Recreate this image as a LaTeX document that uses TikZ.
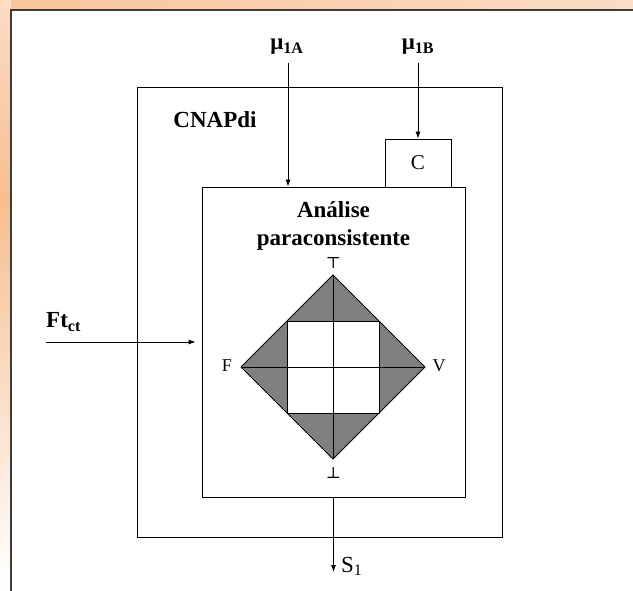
\documentclass[tikz,border=0pt]{standalone}
\usepackage{fontspec}
\setmainfont{Liberation Serif}
\newfontfamily\symfont{DejaVu Serif}
\usetikzlibrary{arrows.meta, positioning, calc, shadings}
\definecolor{cnpeach}{HTML}{F7BE90}
\definecolor{cnpeachlight}{HTML}{FCDCC6}
\definecolor{cnframe}{HTML}{3C3C3C}
\definecolor{cngray}{HTML}{808080}

\begin{document}
\begin{tikzpicture}[x=1pt, y=-1pt,
  box/.style={draw=black, line width=0.8pt, inner sep=0pt},
  arr/.style={draw=black, line width=0.8pt, -{Latex[length=7pt, width=5pt]}},
  bigbf/.style={font=\fontsize{23}{28}\selectfont\bfseries},
  bigrm/.style={font=\fontsize{23}{25}\selectfont},
  smallrm/.style={font=\fontsize{18}{20}\selectfont, inner sep=0pt}]
  \useasboundingbox (0,0) rectangle (633,591);
  \shade[left color=cnpeach!80!cnpeachlight, right color=cnpeachlight] (0,0) rectangle (633,11);
  \shade[top color=cnpeachlight, bottom color=cnpeach] (0,0) rectangle (11,200);
  \shade[top color=cnpeach, bottom color=white] (0,200) rectangle (11,591);
  \fill[white] (11,10) rectangle (633,591);
  \draw[cnframe, line width=2pt] (11,591) |- (633,10);

  \node[box, minimum width=365pt, minimum height=450pt] (cnap) at (319.5,312) {};
  \node[box, minimum width=263pt, minimum height=310pt] (analise) at (333.5,342) {};
  \node[box, fill=white, minimum width=66pt, minimum height=48pt, font=\fontsize{21}{23}\selectfont] (cbox) at (418,163) {C};

  \node[bigbf, anchor=base] (cnaptxt) at (215,128) {CNAPdi};
  \node[bigbf, align=center, anchor=north, inner sep=0pt] (titulo) at (333.5,201) {Análise\\paraconsistente};

  \coordinate (centro) at (333,367);
  \coordinate (topo) at ($(centro)+(0,-92)$);
  \coordinate (dir) at ($(centro)+(92,0)$);
  \coordinate (baixo) at ($(centro)+(0,92)$);
  \coordinate (esq) at ($(centro)+(-92,0)$);
  \fill[cngray] (topo) -- (dir) -- (baixo) -- (esq) -- cycle;
  \fill[white] ($(centro)+(-46,-46)$) rectangle ($(centro)+(46,46)$);
  \draw[line width=0.8pt] (topo) -- (dir) -- (baixo) -- (esq) -- cycle;
  \draw[line width=0.8pt] ($(centro)+(-46,-46)$) rectangle ($(centro)+(46,46)$);
  \draw[line width=0.8pt] (esq) -- (dir);
  \draw[line width=0.8pt] (topo) -- (baixo);

  \node[font=\fontsize{16}{18}\selectfont\symfont, inner sep=0pt] (lbltopo) at (333.5,262.5) {⊤};
  \node[font=\fontsize{16}{18}\selectfont\symfont, inner sep=0pt] (lblbaixo) at (333.5,473) {⊥};
  \node[smallrm, anchor=base] (lblf) at (227,372) {F};
  \node[smallrm, anchor=base] (lblv) at (439,372) {V};

  \node[bigbf, anchor=base] (mu1a) at (287,50) {μ\textsubscript{1A}};
  \node[bigbf, anchor=base] (mu1b) at (418,50) {μ\textsubscript{1B}};
  \node[bigbf, anchor=base west, inner sep=0pt] (ft) at (46,328) {Ft\textsubscript{ct}};
  \node[bigrm, anchor=base west, inner sep=0pt] (s1) at (341,572) {S\textsubscript{1}};
  \coordinate (ftini) at (46,342);

  \draw[arr] ([xshift=1pt, yshift=-5pt]mu1a.south) -- ([xshift=1pt]mu1a.south |- analise.north);
  \draw[arr] ([yshift=-5pt]mu1b.south) -- (cbox.north);
  \draw[arr, shorten >=6pt] (ftini) -- (ftini -| analise.west);
  \draw[arr] (analise.south) -- (analise.south |- s1.base);
\end{tikzpicture}
\end{document}
